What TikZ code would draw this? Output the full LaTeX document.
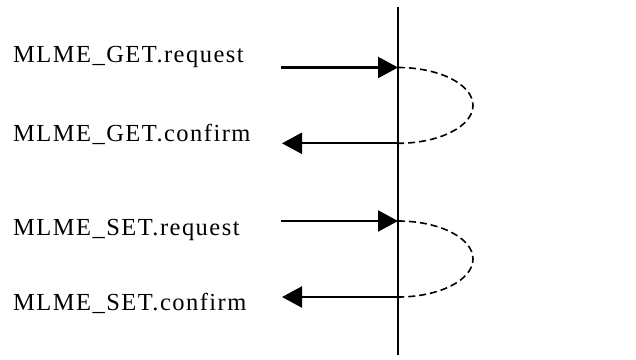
\documentclass[tikz,border=0pt]{standalone}
\usepackage{fontspec}
\setmainfont{Liberation Serif}
\usetikzlibrary{arrows.meta}
\begin{document}
\begin{tikzpicture}[x=1pt,y=-1pt,
  lbl/.style={anchor=base west,inner sep=0pt,font=\fontsize{24.5}{29}\selectfont\addfontfeature{LetterSpace=6}},
  msg/.style={line width=2.2pt,-{Triangle[length=20pt,width=21pt]}},
  lifeline/.style={line width=2.2pt},
  loopline/.style={line width=1.6pt,dash pattern=on 7pt off 4pt}]
\useasboundingbox (0,0) rectangle (636,359);
% lifeline
\coordinate (top) at (398,7);
\coordinate (bot) at (398,355);
\draw[lifeline] (top) -- (bot);
% labels
\node[lbl] (getreq) at (13,62) {MLME\_GET.request};
\node[lbl] (getcnf) at (13,141) {MLME\_GET.confirm};
\node[lbl] (setreq) at (13,235.5) {MLME\_SET.request};
\node[lbl] (setcnf) at (13,310.5) {MLME\_SET.confirm};
% endpoints
\coordinate (gqs) at (281,67.5);
\coordinate (gqe) at (398,67.5);
\coordinate (gcs) at (398,143.3);
\coordinate (gce) at (282,143.3);
\coordinate (sqs) at (281,221);
\coordinate (sqe) at (398,221);
\coordinate (scs) at (398,297);
\coordinate (sce) at (282,297);
% messages
\draw[msg] (gqs) -- (gqe);
\draw[msg] (gcs) -- (gce);
\draw[msg] (sqs) -- (sqe);
\draw[msg] (scs) -- (sce);
% loops
\draw[loopline] (gqe) arc[start angle=-90,end angle=90,x radius=75,y radius=37.9];
\draw[loopline] (sqe) arc[start angle=-90,end angle=90,x radius=75,y radius=38];
\end{tikzpicture}
\end{document}
